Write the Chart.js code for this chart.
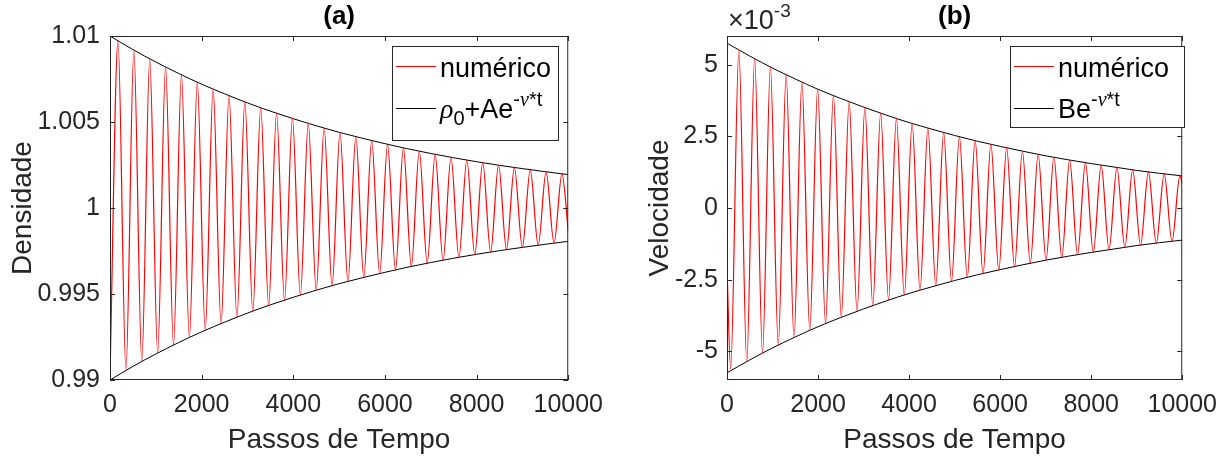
<!DOCTYPE html>
<html>
<head>
<meta charset="utf-8">
<script src="https://cdn.jsdelivr.net/npm/chart.js@4.4.1/dist/chart.umd.min.js"></script>
<style>
    body { margin: 0; background: #fff; width: 1227px; height: 459px; overflow: hidden; position: relative; }
    canvas { position: absolute; top: 0; }
    #chart-a { left: 0; }
    #chart-b { left: 613px; }
</style>
</head>
<body>
<canvas id="chart-a" width="613" height="459" style="width:613px;height:459px"></canvas>
<canvas id="chart-b" width="614" height="459" style="width:614px;height:459px"></canvas>
<script>
// Envelope sample times (passos de tempo)
const envTimes = [0, 500, 1000, 1500, 2000, 2500, 3000, 3500, 4000, 4500, 5000,
    5500, 6000, 6500, 7000, 7500, 8000, 8500, 9000, 9500, 10000];

// (a) rho0 + A e^(-nu t) envelope, upper and lower
const densUpper = [1.0100, 1.00921, 1.00849, 1.00782, 1.00720, 1.00664, 1.00611, 1.00563, 1.00519, 1.00478, 1.00440,
    1.00406, 1.00374, 1.00344, 1.00317, 1.00292, 1.00269, 1.00248, 1.00229, 1.00211, 1.00194];
const densLower = [0.9900, 0.99079, 0.99151, 0.99218, 0.99280, 0.99336, 0.99389, 0.99437, 0.99481, 0.99522, 0.99560,
    0.99594, 0.99626, 0.99656, 0.99683, 0.99708, 0.99731, 0.99752, 0.99771, 0.99789, 0.99806];

// (b) B e^(-nu t) envelope, in units of 1e-3
const velUpper = [5.75, 5.30, 4.88, 4.50, 4.14, 3.82, 3.52, 3.24, 2.98, 2.75, 2.53,
    2.33, 2.15, 1.98, 1.82, 1.68, 1.55, 1.43, 1.31, 1.21, 1.12];
const velLower = [-5.75, -5.30, -4.88, -4.50, -4.14, -3.82, -3.52, -3.24, -2.98, -2.75, -2.53,
    -2.33, -2.15, -1.98, -1.82, -1.68, -1.55, -1.43, -1.31, -1.21, -1.12];

// (a) numerical density: start, peaks/troughs, end
const densTimes = [0, 175, 348, 521, 694, 867, 1040, 1213, 1386, 1559, 1732, 1905, 2078, 2251, 2424,
    2597, 2770, 2943, 3116, 3289, 3462, 3635, 3808, 3981, 4154, 4327, 4500, 4673, 4846, 5019,
    5192, 5365, 5538, 5711, 5884, 6057, 6230, 6403, 6576, 6749, 6922, 7095, 7268, 7441, 7614,
    7787, 7960, 8133, 8306, 8479, 8652, 8825, 8998, 9171, 9344, 9517, 9690, 9863, 10000];
const densValues = [0.9902, 1.00972, 0.99056, 1.00918, 0.99108, 1.00868, 0.99157, 1.00820, 0.99203, 1.00774,
    0.99247, 1.00732, 0.99289, 1.00691, 0.99328, 1.00653, 0.99365, 1.00617, 0.99400, 1.00583,
    0.99433, 1.00551, 0.99464, 1.00521, 0.99494, 1.00492, 0.99522, 1.00465, 0.99548, 1.00439,
    0.99573, 1.00415, 0.99597, 1.00392, 0.99619, 1.00370, 0.99640, 1.00350, 0.99660, 1.00331,
    0.99679, 1.00312, 0.99696, 1.00295, 0.99713, 1.00279, 0.99729, 1.00264, 0.99744, 1.00249,
    0.99758, 1.00235, 0.99771, 1.00222, 0.99784, 1.00210, 0.99796, 1.00198, 0.99870];

// (b) numerical velocity (1e-3): start, first trough, peaks/troughs, end
const velTimes = [0, 80, 261, 434, 607, 780, 953, 1126, 1299, 1472, 1645, 1818, 1991, 2164, 2337,
    2510, 2683, 2856, 3029, 3202, 3375, 3548, 3721, 3894, 4067, 4240, 4413, 4586, 4759, 4932,
    5105, 5278, 5451, 5624, 5797, 5970, 6143, 6316, 6489, 6662, 6835, 7008, 7181, 7354, 7527,
    7700, 7873, 8046, 8219, 8392, 8565, 8738, 8911, 9084, 9257, 9430, 9603, 9776, 9949, 10000];
const velValues = [-2.1, -5.62, 5.51, -5.36, 5.21, -5.06, 4.92, -4.78, 4.65, -4.52, 4.39, -4.27, 4.15, -4.03,
    3.92, -3.81, 3.70, -3.60, 3.50, -3.40, 3.31, -3.21, 3.12, -3.04, 2.95, -2.87, 2.79, -2.71,
    2.64, -2.56, 2.49, -2.42, 2.35, -2.29, 2.22, -2.16, 2.10, -2.04, 1.98, -1.93, 1.87, -1.82,
    1.77, -1.72, 1.67, -1.63, 1.58, -1.54, 1.49, -1.45, 1.41, -1.37, 1.33, -1.30, 1.26, -1.23,
    1.19, -1.16, 1.13, 0.85];

// Tick values and labels
const xTicks = [0, 2000, 4000, 6000, 8000, 10000];
const densTicks = [0.99, 0.995, 1, 1.005, 1.01];
const densTickLabels = ['0.99', '0.995', '1', '1.005', '1.01'];
const velTicks = [-5, -2.5, 0, 2.5, 5];
const velTickLabels = ['-5', '-2.5', '0', '2.5', '5'];

const AXIS = '#262626';
const FONT = '"Liberation Sans", Arial, Helvetica, sans-serif';
const SERIF = '"Liberation Serif", "DejaVu Serif", serif';

function toPoints(xs, ys) {
    return xs.map((x, i) => ({ x: x, y: ys[i] }));
}

// Draws a run of text pieces (normal, sub, sup) from x on baseline y
function drawRich(ctx, parts, x, y) {
    parts.forEach(p => {
        ctx.font = p.font;
        ctx.fillText(p.t, x, y + (p.dy || 0));
        x += ctx.measureText(p.t).width;
    });
}

// MATLAB-like box, inward ticks, titles and legend
function matlabPlugin(cfg) {
    return {
        id: 'matlab',
        afterDraw(chart) {
            const ctx = chart.ctx;
            const a = chart.chartArea;
            const xs = chart.scales.x;
            const ys = chart.scales.y;
            ctx.save();
            ctx.strokeStyle = AXIS;
            ctx.lineWidth = 1;
            ctx.strokeRect(a.left + 0.5, a.top + 0.5, a.right - a.left - 1, a.bottom - a.top - 1);

            ctx.beginPath();
            xTicks.forEach(v => {
                const px = Math.round(xs.getPixelForValue(v)) + 0.5;
                ctx.moveTo(px, a.bottom); ctx.lineTo(px, a.bottom - 5);
                ctx.moveTo(px, a.top); ctx.lineTo(px, a.top + 5);
            });
            cfg.yTicks.forEach(v => {
                const py = Math.round(ys.getPixelForValue(v)) + 0.5;
                ctx.moveTo(a.left, py); ctx.lineTo(a.left + 5, py);
                ctx.moveTo(a.right, py); ctx.lineTo(a.right - 5, py);
            });
            ctx.stroke();

            const cx = (a.left + a.right) / 2;
            ctx.fillStyle = '#000';
            ctx.textAlign = 'center';
            ctx.textBaseline = 'alphabetic';
            ctx.font = 'bold 26px ' + FONT;
            ctx.fillText(cfg.title, cx, 24);

            ctx.fillStyle = AXIS;
            ctx.font = '28px ' + FONT;
            ctx.fillText('Passos de Tempo', cx, 448);

            ctx.save();
            ctx.translate(cfg.yTitleX, (a.top + a.bottom) / 2);
            ctx.rotate(-Math.PI / 2);
            ctx.fillText(cfg.yTitle, 0, 0);
            ctx.restore();

            if (cfg.exponent) {
                ctx.textAlign = 'left';
                drawRich(ctx, [
                    { t: '\u00d710', font: '27px ' + FONT },
                    { t: '-3', font: '19px ' + FONT, dy: -12 }
                ], a.left + 1, 29);
            }

            // legend
            const lg = cfg.legend;
            ctx.fillStyle = '#fff';
            ctx.fillRect(lg.x, lg.y, lg.w, lg.h);
            ctx.strokeStyle = AXIS;
            ctx.strokeRect(lg.x + 0.5, lg.y + 0.5, lg.w, lg.h);
            const rows = [{ color: '#ff0000', dy: 20.5 }, { color: '#000000', dy: 62.5 }];
            rows.forEach(r => {
                ctx.strokeStyle = r.color;
                ctx.beginPath();
                ctx.moveTo(lg.x + 4, lg.y + r.dy);
                ctx.lineTo(lg.x + 44, lg.y + r.dy);
                ctx.stroke();
            });
            ctx.fillStyle = '#000';
            ctx.textAlign = 'left';
            ctx.font = '27px ' + FONT;
            ctx.fillText('numérico', lg.x + 48, lg.y + 31);
            drawRich(ctx, cfg.legendParts, lg.x + 48, lg.y + 72);
            ctx.restore();
        }
    };
}

function makeChart(id, cfg) {
    new Chart(document.getElementById(id), {
        type: 'line',
        data: {
            datasets: [
                {
                    data: toPoints(cfg.times, cfg.values),
                    borderColor: '#ff0000', borderWidth: 1.2,
                    pointRadius: 0, cubicInterpolationMode: 'monotone'
                },
                {
                    data: toPoints(envTimes, cfg.upper),
                    borderColor: '#000000', borderWidth: 1,
                    pointRadius: 0, cubicInterpolationMode: 'monotone'
                },
                {
                    data: toPoints(envTimes, cfg.lower),
                    borderColor: '#000000', borderWidth: 1,
                    pointRadius: 0, cubicInterpolationMode: 'monotone'
                }
            ]
        },
        options: {
            responsive: false,
            animation: false,
            events: [],
            layout: { padding: { left: 0, right: cfg.padRight, top: 36, bottom: 0 } },
            plugins: { legend: { display: false }, tooltip: { enabled: false } },
            scales: {
                x: {
                    type: 'linear', min: 0, max: 10000,
                    afterBuildTicks: s => { s.ticks = xTicks.map(v => ({ value: v })); },
                    afterFit: s => { s.height = 79; },
                    grid: { display: false, drawTicks: false },
                    border: { display: false },
                    ticks: {
                        autoSkip: false, maxRotation: 0, padding: 10,
                        color: AXIS, font: { family: FONT, size: 25 },
                        callback: v => String(v)
                    }
                },
                y: {
                    type: 'linear', min: cfg.yMin, max: cfg.yMax,
                    afterBuildTicks: s => { s.ticks = cfg.yTicks.map(v => ({ value: v })); },
                    afterFit: s => { s.width = cfg.yWidth; },
                    grid: { display: false, drawTicks: false },
                    border: { display: false },
                    ticks: {
                        autoSkip: false, padding: cfg.yPad,
                        color: AXIS, font: { family: FONT, size: 25 },
                        callback: (v, i) => cfg.yLabels[i]
                    }
                }
            }
        },
        plugins: [matlabPlugin(cfg)]
    });
}

makeChart('chart-a', {
    times: densTimes, values: densValues, upper: densUpper, lower: densLower,
    yMin: 0.99, yMax: 1.01, yTicks: densTicks, yLabels: densTickLabels,
    yWidth: 110, yPad: 10, padRight: 44,
    title: '(a)', yTitle: 'Densidade', yTitleX: 31,
    legend: { x: 392, y: 46, w: 166, h: 94 },
    legendParts: [
        { t: '\u03c1', font: 'italic 28px ' + SERIF },
        { t: '0', font: '20px ' + FONT, dy: 7 },
        { t: '+Ae', font: '27px ' + FONT },
        { t: '-', font: '20px ' + FONT, dy: -12 },
        { t: '\u03bd', font: 'italic 20px ' + SERIF, dy: -12 },
        { t: '*t', font: '20px ' + FONT, dy: -12 }
    ]
});

makeChart('chart-b', {
    times: velTimes, values: velValues, upper: velUpper, lower: velLower,
    yMin: -6, yMax: 6, yTicks: velTicks, yLabels: velTickLabels,
    yWidth: 114, yPad: 9, padRight: 40,
    title: '(b)', yTitle: 'Velocidade', yTitleX: 55, exponent: true,
    legend: { x: 397, y: 46, w: 174, h: 81 },
    legendParts: [
        { t: 'Be', font: '27px ' + FONT },
        { t: '-', font: '20px ' + FONT, dy: -12 },
        { t: '\u03bd', font: 'italic 20px ' + SERIF, dy: -12 },
        { t: '*t', font: '20px ' + FONT, dy: -12 }
    ]
});
</script>
</body>
</html>
